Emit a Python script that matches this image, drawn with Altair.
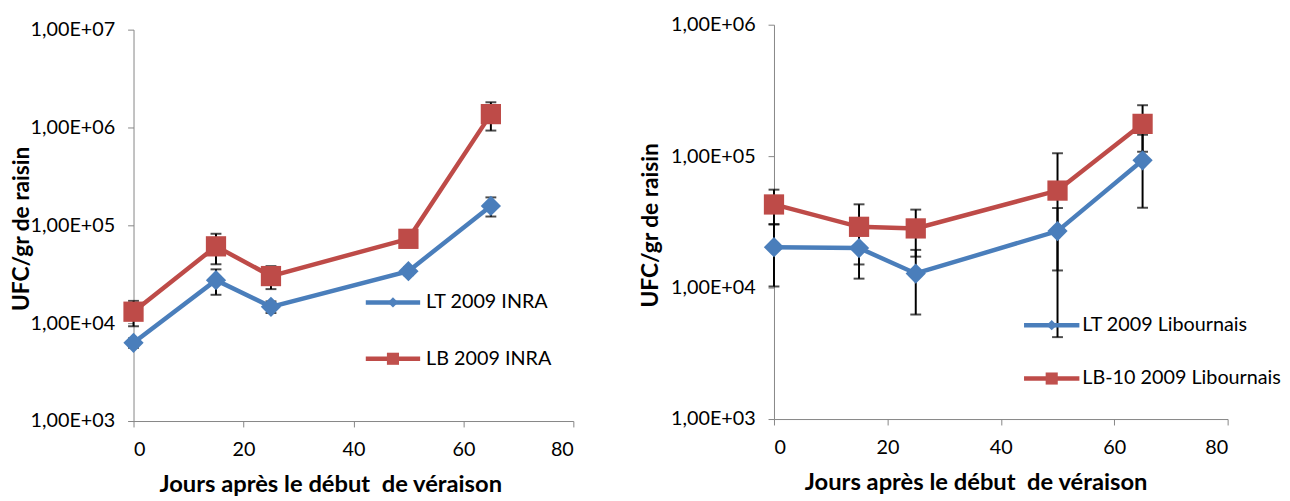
import altair as alt
import pandas as pd

# ---------------- data ----------------
days = [0, 15, 25, 50, 65]

# left panel (INRA)
inra_series = ["LT 2009 INRA", "LB 2009 INRA"]
lt_inra = [6300, 27500, 14700, 34000, 158000]
lt_inra_err = [700, 8000, 2000, 3000, 35000]
lb_inra = [13100, 61000, 30300, 72800, 1370000]
lb_inra_err = [3800, 21000, 8000, 5000, 440000]

# right panel (Libournais)
lib_series = ["LT 2009 Libournais", "LB-10 2009 Libournais"]
lt_lib = [20300, 20000, 12800, 26900, 93000]
lt_lib_err = [10100, 8300, 6560, 13400, 52500]
lb_lib = [42900, 29000, 28200, 54700, 176000]
lb_lib_err = [12700, 14000, 11000, 50500, 68000]

x_ticks = [0, 20, 40, 60, 80]
y_ticks_left = [1e3, 1e4, 1e5, 1e6, 1e7]
y_ticks_right = [1e3, 1e4, 1e5, 1e6]

x_title = "Jours après le début\u00a0 de véraison"
y_title = "UFC/gr de raisin"

LINE_COLORS = ["#4A7EBB", "#BE4B48"]
MARK_COLORS = ["#4F81BD", "#C0504D"]
SHAPES = ["diamond", "square"]
FONT = "Lato"


def frame(names, vals, errs):
    rows = []
    for name, v, e in zip(names, vals, errs):
        for d, vv, ee in zip(days, v, e):
            rows.append({"day": d, "value": vv, "err": ee, "series": name})
    return pd.DataFrame(rows)


def panel(df, names, y_domain, y_ticks, w, h, y_top, leg_x0, leg_x1, leg_tx, leg_ys,
          ytitle_x, xtitle_x):
    base = alt.Chart(df)
    xs = alt.X("day:Q", scale=alt.Scale(domain=[0, 80], nice=False, zero=False),
               axis=alt.Axis(values=x_ticks, title=x_title, titleX=xtitle_x,
                             titleY=71, titleBaseline="alphabetic", titleFontSize=24,
                             titleAlign="center", labelPadding=13))
    ysc = alt.Scale(type="log", domain=y_domain, nice=False, range=[h, y_top])
    yax = alt.Axis(values=y_ticks, title=y_title, titleX=ytitle_x,
                   titleY=(h + y_top) / 2 + 3, titleFontSize=23,
                   labelExpr="'1,00E+0' + round(log(datum.value)/LN10)",
                   labelPadding=13)
    color = alt.Color("series:N", scale=alt.Scale(domain=names, range=LINE_COLORS), legend=None)
    mcolor = alt.Color("series:N", scale=alt.Scale(domain=names, range=MARK_COLORS), legend=None)
    shape = alt.Shape("series:N", scale=alt.Scale(domain=names, range=SHAPES), legend=None)

    eb = base.transform_calculate(lo="datum.value - datum.err", hi="datum.value + datum.err")
    rule = eb.mark_rule(color="black", strokeWidth=2).encode(
        x=xs, y=alt.Y("lo:Q", scale=ysc, axis=yax), y2="hi:Q")
    cap_lo = eb.mark_tick(color="black", orient="horizontal", size=11, thickness=2).encode(
        x="day:Q", y=alt.Y("lo:Q"))
    cap_hi = eb.mark_tick(color="black", orient="horizontal", size=11, thickness=2).encode(
        x="day:Q", y=alt.Y("hi:Q"))
    line = base.mark_line(strokeWidth=4.5).encode(
        x="day:Q", y=alt.Y("value:Q"), color=color, detail="series:N")
    pts = base.mark_point(filled=True, opacity=1, size=420).encode(
        x="day:Q", y=alt.Y("value:Q"), color=mcolor, shape=shape)

    layers = [rule, cap_lo, cap_hi, line, pts]
    leg_sizes = [110, 150]
    for i, name in enumerate(names):
        ldf = pd.DataFrame({"label": [name]})
        lc = alt.Chart(ldf)
        layers.append(lc.mark_rule(color=LINE_COLORS[i], strokeWidth=4.5).encode(
            x=alt.value(leg_x0), x2=alt.value(leg_x1), y=alt.value(leg_ys[i])))
        layers.append(lc.mark_point(filled=True, opacity=1, shape=SHAPES[i],
                                    color=MARK_COLORS[i], size=leg_sizes[i]).encode(
            x=alt.value((leg_x0 + leg_x1) / 2), y=alt.value(leg_ys[i])))
        layers.append(lc.mark_text(align="left", baseline="middle", font=FONT,
                                   fontSize=20, color="black").encode(
            x=alt.value(leg_tx), y=alt.value(leg_ys[i]), text="label:N"))
    return alt.layer(*layers).properties(width=w, height=h)


left_df = frame(inra_series, [lt_inra, lb_inra], [lt_inra_err, lb_inra_err])
right_df = frame(lib_series, [lt_lib, lb_lib], [lt_lib_err, lb_lib_err])

# left plot drawn 5px lower than the right one (as in the reference)
left = panel(left_df, inra_series, [1e3, 1e7], y_ticks_left, 445, 401, 5,
             235, 290, 296, [281, 338], -101, 199)

right = panel(right_df, lib_series, [1e3, 1e6], y_ticks_right, 459, 399, 0,
              253, 309, 312, [304, 358], -113, 204)

chart = alt.hconcat(left, right, spacing=66).properties(
    padding={"left": 3, "top": 4, "right": 0, "bottom": 0}
).configure_view(stroke=None).configure_axis(
    grid=False, domainColor="#868686", tickColor="#868686", tickSize=6,
    labelFont=FONT, labelFontSize=20, labelColor="black",
    titleFont=FONT, titleFontWeight="bold", titleColor="black"
)

chart.save("out.html", embed_options={"renderer": "svg", "actions": False})
